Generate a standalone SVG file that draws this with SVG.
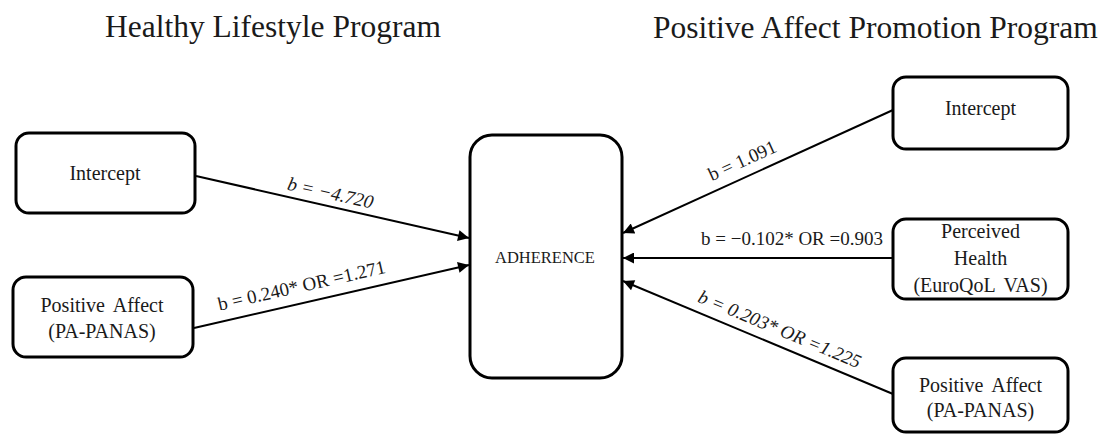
<svg xmlns="http://www.w3.org/2000/svg" width="1108" height="434" viewBox="0 0 1108 434" font-family="'Liberation Serif', serif">
<style>
.box{fill:#fff;stroke:#000;stroke-width:3}
text{font-family:"Liberation Serif",serif;fill:#1a1a1a}
.n{font-size:20px;text-anchor:middle}
.title{font-size:31.5px}
.e{font-size:19px;text-anchor:middle}
.edge{stroke:#000;stroke-width:2;fill:none;marker-end:url(#ah)}
</style>
<defs>
<marker id="ah" viewBox="0 0 10 10" refX="10" refY="5" markerWidth="13" markerHeight="11" markerUnits="userSpaceOnUse" orient="auto">
<path d="M0,0 L10,5 L0,10 z" fill="#000"/>
</marker>
</defs>
<rect width="1108" height="434" fill="#fff"/>
<text class="title" x="105" y="37">Healthy Lifestyle Program</text>
<text class="title" x="653" y="38">Positive Affect Promotion Program</text>

<g id="connectors">
<line class="edge" x1="196" y1="176" x2="469" y2="238"/>
<line class="edge" x1="194" y1="328" x2="469" y2="265"/>
<line class="edge" x1="893" y1="110" x2="623" y2="233"/>
<line class="edge" x1="893" y1="258" x2="623" y2="258"/>
<line class="edge" x1="893" y1="394" x2="623" y2="281"/>
<text class="e" font-style="italic" transform="translate(327.5,205.9) rotate(12.7)" x="0" y="-7">b = −4.720</text>
<text class="e" transform="translate(305.5,302.4) rotate(-12.8)" x="0" y="-11">b = 0.240* OR =1.271</text>
<text class="e" transform="translate(749,175.4) rotate(-24.4)" x="0" y="-10">b = 1.091</text>
<text class="e" x="792" y="245">b = −0.102* OR =0.903</text>
<text class="e" font-style="italic" transform="translate(773.5,344.2) rotate(22.6)" x="0" y="-10">b = 0.203* OR =1.225</text>
</g>

<g id="node-hl-intercept">
<rect class="box" x="16" y="133" width="179" height="80" rx="13"/>
<text class="n" x="105" y="180">Intercept</text>
</g>
<g id="node-hl-pa">
<rect class="box" x="13" y="277" width="180" height="80" rx="13"/>
<text class="n" x="102" y="312" word-spacing="4">Positive Affect</text>
<text class="n" x="102" y="338">(PA-PANAS)</text>
</g>
<g id="node-adherence">
<rect class="box" x="470" y="135" width="152" height="243" rx="22"/>
<text x="545" y="263" font-size="16.5" text-anchor="middle">ADHERENCE</text>
</g>
<g id="node-pap-intercept">
<rect class="box" x="893" y="77" width="175" height="72" rx="13"/>
<text class="n" x="980.5" y="115">Intercept</text>
</g>
<g id="node-pap-health">
<rect class="box" x="893" y="219" width="175" height="80" rx="13"/>
<text class="n" x="980.5" y="238">Perceived</text>
<text class="n" x="980.5" y="265">Health</text>
<text class="n" x="980.5" y="292" word-spacing="4">(EuroQoL VAS)</text>
</g>
<g id="node-pap-pa">
<rect class="box" x="893" y="358" width="175" height="74" rx="13"/>
<text class="n" x="980.5" y="392" word-spacing="4">Positive Affect</text>
<text class="n" x="980.5" y="417">(PA-PANAS)</text>
</g>
</svg>
